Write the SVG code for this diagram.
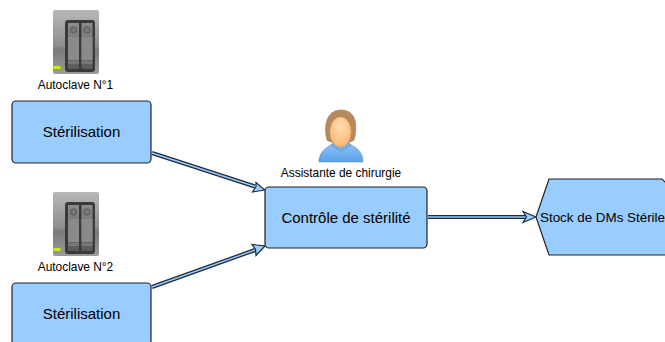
<svg xmlns="http://www.w3.org/2000/svg" width="665" height="342" viewBox="0 0 665 342">
<defs>
<linearGradient id="srv" x1="0" y1="0" x2="0" y2="1"><stop offset="0" stop-color="#b8b8b8"/><stop offset="0.55" stop-color="#8e8e8e"/><stop offset="0.62" stop-color="#7a7a7a"/><stop offset="1" stop-color="#9a9a9a"/></linearGradient>
<linearGradient id="bay" x1="0" y1="0" x2="0" y2="1"><stop offset="0" stop-color="#8c8c8c"/><stop offset="1" stop-color="#5a5a5a"/></linearGradient>
<linearGradient id="shirt" x1="0" y1="0" x2="0" y2="1"><stop offset="0" stop-color="#8cc4f8"/><stop offset="1" stop-color="#5aa2e8"/></linearGradient>
<radialGradient id="face" cx="0.5" cy="0.35" r="0.65"><stop offset="0" stop-color="#ffe0b4"/><stop offset="1" stop-color="#fbb570"/></radialGradient>
<g id="autoclave">
<rect x="0" y="0" width="46" height="64" rx="2" fill="url(#srv)"/>
<rect x="12" y="10" width="30" height="52" rx="3" fill="#3a3a3a"/>
<rect x="15" y="13" width="11" height="46" fill="url(#bay)"/>
<rect x="28.500" y="13" width="11" height="46" fill="url(#bay)"/>
<circle cx="20.500" cy="20" r="3.200" fill="#777" stroke="#444" stroke-width="0.600"/>
<circle cx="34" cy="20" r="3.200" fill="#777" stroke="#444" stroke-width="0.600"/>
<rect x="15" y="27" width="11" height="23" fill="#8a8a8a"/>
<rect x="28.500" y="27" width="11" height="23" fill="#8a8a8a"/>
<rect x="15" y="51" width="11" height="3" fill="#777"/>
<rect x="28.500" y="51" width="11" height="3" fill="#777"/>
<rect x="0.500" y="56" width="7" height="3" fill="#c8f000"/>
</g>
</defs>
<style>
.box{fill:#99ccff;stroke:#222;stroke-width:1.200}
.t{font-family:"Liberation Sans",Arial,sans-serif;fill:#000;text-anchor:middle}
.b{font-size:15px}
.s{font-size:11.900px}
.w1{fill:none;stroke:#1f2a3a;stroke-width:4}
.w2{fill:none;stroke:#99ccff;stroke-width:1.400}
.h{fill:#99ccff;stroke:#1f2a3a;stroke-width:1.200;stroke-linejoin:miter}
</style>
<g id="connectors">
<path class="w1" d="M152 153L255 186.500"/><path class="w2" d="M152 153L255 186.500"/>
<path class="h" d="M265 190L252.500 192L256 186.500L256 182.500Z"/>
<path class="w1" d="M152 287L255 250"/><path class="w2" d="M152 287L255 250"/>
<path class="h" d="M265 246L256 255.500L255.500 249.500L252 244.500Z"/>
<path class="w1" d="M428 217L526 217"/><path class="w2" d="M428 217L526 217"/>
<path class="h" d="M536 217L523 222.500L526.500 217L523 211.500Z"/>
</g>
<g id="autoclave1"><use href="#autoclave" x="53" y="10"/><text class="t s" x="75.500" y="89">Autoclave N°1</text></g>
<g id="sterilisation1"><rect class="box" x="12" y="101" width="139" height="62" rx="4"/><text class="t b" x="81.500" y="137">Stérilisation</text></g>
<g id="autoclave2"><use href="#autoclave" x="53" y="192"/><text class="t s" x="75.500" y="271">Autoclave N°2</text></g>
<g id="sterilisation2"><rect class="box" x="12" y="283" width="139" height="62" rx="4"/><text class="t b" x="81.500" y="319">Stérilisation</text></g>
<g id="assistante">
<path d="M319 162C319 150 329 146 335 143L347 143C354 146 363 150 363 162Z" fill="url(#shirt)" stroke="#5a7ea8" stroke-width="0.500"/>
<path d="M331 145L341 151L351 145L347 141L335 141Z" fill="#7ab0e6" stroke="#5a7ea8" stroke-width="0.500"/>
<path d="M327 140C323 125 327 110 341 110C356 110 358 125 354 140C350 144 331 144 327 140Z" fill="#b8895a" stroke="#8f6a45" stroke-width="0.500"/>
<ellipse cx="340.500" cy="132" rx="10.500" ry="15" fill="url(#face)" stroke="#e0a468" stroke-width="0.500"/>
<text class="t s" x="341" y="177">Assistante de chirurgie</text>
</g>
<g id="controle"><rect class="box" x="265" y="187" width="162" height="61" rx="4"/><text class="t b" x="346" y="223">Contrôle de stérilité</text></g>
<g id="stock"><path class="box" d="M536 217L549 179L662 179L666 183L666 255L662 255L549 255Z"/><text class="t" style="font-size:13.400px" x="602.500" y="222">Stock de DMs Stérile</text></g>
</svg>
